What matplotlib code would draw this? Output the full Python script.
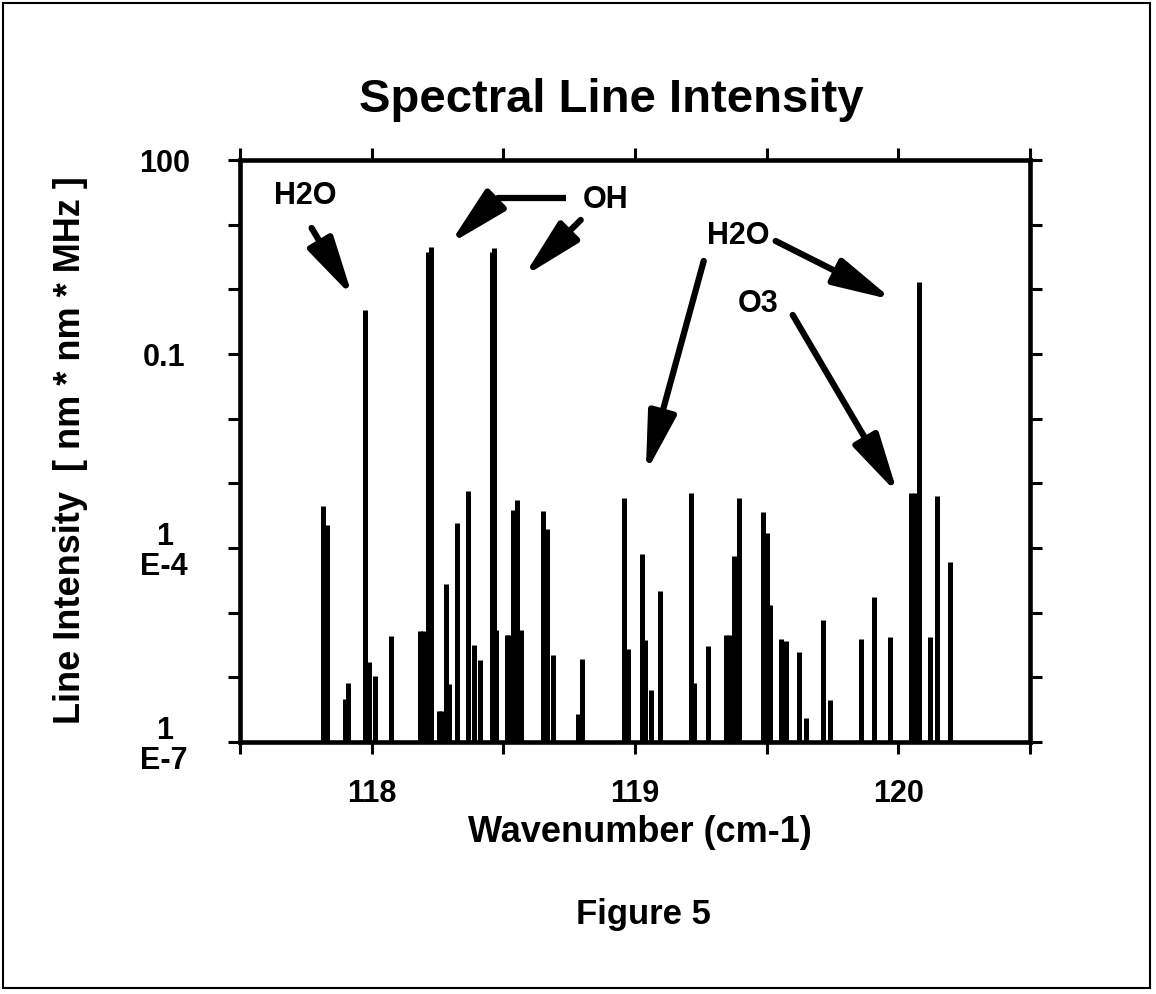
import matplotlib
matplotlib.use("Agg")
import matplotlib.pyplot as plt
from matplotlib.patches import Rectangle
from matplotlib.ticker import FixedLocator, NullLocator
import numpy as np

plt.rcParams['font.family'] = ['Liberation Sans', 'DejaVu Sans']
plt.rcParams['font.weight'] = 'bold'

# line positions (cm-1) and log10 of line intensity
wavenumber = [117.814, 117.829, 117.899, 117.911, 117.973, 117.991, 118.013,
              118.072, 118.185, 118.195, 118.215, 118.225, 118.255, 118.265,
              118.282, 118.292, 118.324, 118.366, 118.390, 118.410, 118.456,
              118.464, 118.471, 118.513, 118.523, 118.538, 118.553, 118.566,
              118.650, 118.665, 118.687, 118.784, 118.799,
              118.957, 118.974, 119.026, 119.037, 119.062, 119.094, 119.212,
              119.223, 119.277, 119.345, 119.357, 119.375, 119.396, 119.486,
              119.501, 119.513, 119.553, 119.573, 119.621, 119.650, 119.714,
              119.740, 119.857, 119.908, 119.969,
              120.050, 120.062, 120.078, 120.120, 120.146, 120.195]
log_intensity = [-3.35, -3.64, -6.33, -6.08, -0.32, -5.77, -5.98,
                 -5.36, -5.28, -5.28, 0.58, 0.66, -6.52, -6.52,
                 -4.56, -6.11, -3.61, -3.12, -5.50, -5.73, 0.58,
                 0.64, -5.27, -5.34, -5.34, -3.41, -3.25, -5.26,
                 -3.42, -3.70, -5.66, -6.56, -5.71,
                 -3.22, -5.56, -4.09, -5.43, -6.20, -4.66, -3.15,
                 -6.09, -5.52, -5.35, -5.35, -4.13, -3.23, -3.45,
                 -3.77, -4.88, -5.40, -5.44, -5.61, -6.63, -5.12,
                 -6.35, -5.41, -4.76, -5.38,
                 -3.15, -3.15, 0.11, -5.37, -3.19, -4.22]

x_ticks = [117.5, 118.0, 118.5, 119.0, 119.5, 120.0, 120.5]
x_ticklabels = ['', '118', '', '119', '', '120', '']
y_ticks = [1e-7, 1e-6, 1e-5, 1e-4, 1e-3, 1e-2, 1e-1, 1e0, 1e1, 1e2]
y_ticklabels = ['1\nE-7', '', '', '1\nE-4', '', '', '0.1', '', '', '100']

intensity = 10.0 ** np.array(log_intensity)

fig = plt.figure(figsize=(11.56, 9.94), dpi=100)
ax = fig.add_axes([0.2076, 0.2535, 0.6834, 0.5855])

ax.vlines(wavenumber, 1e-7, intensity, colors='black', linewidth=3.6,
          capstyle='butt')

ax.set_yscale('log')
ax.set_xlim(117.5, 120.5)
ax.set_ylim(1e-7, 1e2)

ax.xaxis.set_major_locator(FixedLocator(x_ticks))
ax.set_xticklabels(x_ticklabels)
ax.yaxis.set_major_locator(FixedLocator(y_ticks))
ax.yaxis.set_minor_locator(NullLocator())
ax.set_yticklabels(y_ticklabels)

for s in ax.spines.values():
    s.set_linewidth(3.3)
ax.tick_params(direction='out', length=8.5, width=2.2, top=True, right=True,
               labelsize=22)
ax.tick_params(axis='x', pad=18)
ax.tick_params(axis='y', pad=46)
for lbl in ax.get_yticklabels():
    lbl.set_horizontalalignment('center')
    lbl.set_multialignment('center')
    lbl.set_linespacing(1.0)

ax.set_xlabel('Wavenumber (cm-1)', fontsize=26, fontweight='bold', va='center')
ax.xaxis.set_label_coords(0.506, -0.155)
ax.set_ylabel('Line Intensity  [ nm * nm * MHz ]', fontsize=26,
              fontweight='bold', va='center')
ax.yaxis.set_label_coords(-0.215, 0.502)

fig.text(0.529, 0.899, 'Spectral Line Intensity', fontsize=34,
         fontweight='bold', ha='center', va='center')
fig.text(0.557, 0.080, 'Figure 5', fontsize=25, fontweight='bold',
         ha='center', va='center')

# annotations
arrow = dict(arrowstyle='-|>,head_length=3.6,head_width=0.85', lw=4.5,
             color='black', shrinkA=0, shrinkB=0, mutation_scale=10)
tkw = dict(fontsize=22, fontweight='bold', ha='center', va='center')

ax.text(117.749, 10 ** 1.444, 'H2O', **tkw)
ax.annotate('', xy=(117.928, 10 ** -0.117), xytext=(117.772, 10 ** 0.949),
            arrowprops=arrow)

ax.text(118.889, 10 ** 1.38, 'OH', **tkw)
ax.plot([118.737, 118.479], [10 ** 1.413, 10 ** 1.413], color='black', lw=4.5,
        solid_capstyle='butt')
ax.annotate('', xy=(118.296, 10 ** 0.702), xytext=(118.479, 10 ** 1.413),
            arrowprops=arrow)
ax.annotate('', xy=(118.577, 10 ** 0.199), xytext=(118.794, 10 ** 1.073),
            arrowprops=arrow)

ax.text(119.394, 10 ** 0.825, 'H2O', **tkw)
ax.annotate('', xy=(119.041, 10 ** -2.838), xytext=(119.261, 10 ** 0.439),
            arrowprops=arrow)
ax.annotate('', xy=(119.979, 10 ** -0.164), xytext=(119.534, 10 ** 0.748),
            arrowprops=arrow)

ax.text(119.466, 10 ** -0.226, 'O3', **tkw)
ax.annotate('', xy=(119.998, 10 ** -3.162), xytext=(119.599, 10 ** -0.396),
            arrowprops=arrow)

# page frame
fig.add_artist(Rectangle((0.003, 0.006), 0.992, 0.991, transform=fig.transFigure,
                         fill=False, lw=1.5, edgecolor='black'))

fig.savefig('out.png', dpi=100)
